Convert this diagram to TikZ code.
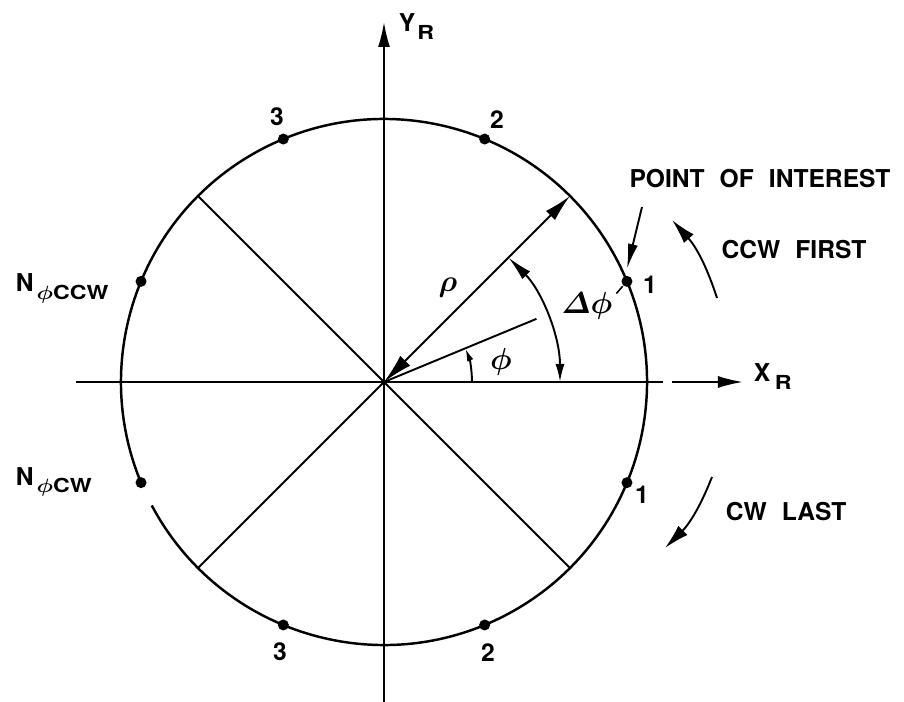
\documentclass[tikz,border=0pt]{standalone}
\usepackage{amsmath}
\usepackage{fontspec}
\setmainfont{TeX Gyre Heros}[WordSpace=2.2]
\usepackage{tikz}
\usetikzlibrary{arrows.meta,positioning}
\newcommand{\lsub}[1]{\raisebox{-4.5pt}{\fontsize{11}{11}\selectfont\scalebox{1.2}[1]{#1}}}

\begin{document}
\begin{tikzpicture}[x=0.2mm,y=0.2mm,line width=1.1pt,font=\fontsize{14}{16}\selectfont\bfseries,
  dot/.style={circle,fill,inner sep=0pt,minimum size=2.2mm},
  lab/.style={inner sep=0pt},
  axtip/.style={-{Latex[length=5mm,width=2.4mm]}},
  curvtip/.style={-{Latex[length=5mm,width=2.6mm]}}]
\useasboundingbox (-384,-320) rectangle (520,382);
\coordinate (O) at (0,0);
% circle, with the small break below N_cw
\draw[line width=1.4pt] (208:263) arc[start angle=208,end angle=563.5,radius=263];
% axes
\coordinate (xl) at (-308,0); \coordinate (xg1) at (279,0); \coordinate (xg2) at (288,0); \coordinate (xr) at (359,0);
\coordinate (yb) at (0,-320); \coordinate (yt) at (0,360);
\draw (xl) -- (xg1); \draw[axtip] (xg2) -- (xr);
\draw[axtip] (yb) -- (yt);
\node[lab,anchor=base west] (xR) at (369,0) {X\hspace{0.9mm}\lsub{R}};
\node[lab,anchor=base west] (yR) at (14,350) {Y\hspace{0.4mm}\lsub{R}};
% diagonals
\draw (135:263) -- (315:263);
\draw (O) -- (225:263);
\draw[{Latex[length=6mm,width=2.8mm]}-{Latex[length=5.5mm,width=2.6mm]}] (O) -- (45:263);
\draw (O) -- (22.5:165);
% angles
\draw[-{Latex[length=2.6mm,width=1.3mm]}] (88,0) arc[start angle=0,end angle=22.5,radius=88];
\draw[{Latex[length=3.6mm,width=1.8mm]}-{Latex[length=5mm,width=2.2mm]}] (176,0) arc[start angle=0,end angle=45,radius=176];
\node[lab] (rho) at (64,94) {\fontsize{17}{17}\selectfont$\boldsymbol{\rho}$};
\node[lab] (phi) at (117,20) {\fontsize{17}{17}\selectfont$\boldsymbol{\phi}$};
\node[lab] (dphi) at (203,76) {\fontsize{17}{17}\selectfont$\boldsymbol{\varDelta\phi}$};
% points on the circle
\foreach \a/\nm in {22.5/p1,67.5/p2,112.5/p3,157.5/pccw,202.5/pcw,247.5/q3,292.5/q2,337.5/q1}
  \node[dot] (\nm) at (\a:263) {};
\node[lab] (l1) at (266,97) {1};
\node[lab] (l2) at (113,262) {2};
\node[lab] (l3) at (-107,265) {3};
\node[lab] (m3) at (-104,-270) {3};
\node[lab] (m2) at (104,-271) {2};
\node[lab] (m1) at (258,-113) {1};
\node[lab,anchor=base west] (nccw) at (-369,90) {N\hspace{0.6mm}\lsub{$\boldsymbol{\phi}$CCW}};
\node[lab,anchor=base west] (ncw) at (-369,-103) {N\hspace{0.6mm}\lsub{$\boldsymbol{\phi}$CW}};
\draw[line width=0.9pt] ([xshift=0.6mm,yshift=-0.4mm]dphi.north east) -- (p1);
% point of interest and directions
\node[lab] (poi) at (376,203) {POINT OF INTEREST};
\coordinate (poia) at (258,175);
\draw[-{Latex[length=5mm,width=2mm]}] (poia) -- ([yshift=1.2mm]p1.north);
\node[lab] (ccw) at (410,132) {CCW FIRST};
\coordinate (ccwa) at (333,84); \coordinate (ccwb) at (288,162);
\draw[curvtip] (ccwa) to[bend right=12] (ccwb);
\node[lab,anchor=west] (cw) at (341,-130) {CW LAST};
\coordinate (cwa) at (328,-95); \coordinate (cwb) at (281,-166);
\draw[curvtip] (cwa) to[bend left=12] (cwb);
\end{tikzpicture}
\end{document}
